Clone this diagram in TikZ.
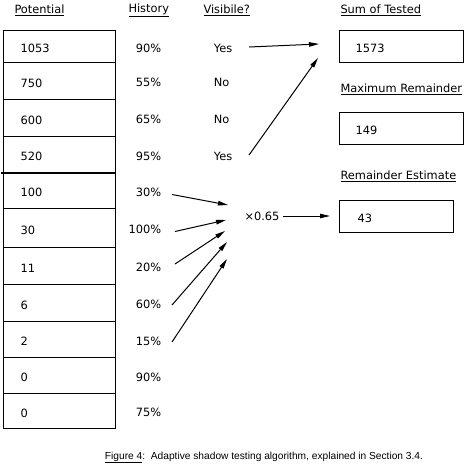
\documentclass[tikz,border=0pt]{standalone}
\usepackage{fontspec}
\setmainfont{DejaVu Sans}
\newfontfamily\capfont{Liberation Sans}
\usetikzlibrary{arrows.meta}

\tikzset{
  row/.style={text height=12pt, text depth=0pt},
  cell/.style={row, draw, anchor=north west, minimum width=112pt, text width=78pt, inner xsep=17pt, align=left},
  res/.style={row, draw, anchor=north west, minimum height=32pt, align=left},
  pct/.style={row, anchor=east},
  vis/.style={row, anchor=west},
  head/.style={anchor=west, inner sep=0pt}
}

\begin{document}
\begin{tikzpicture}[x=1pt,y=-1pt,line width=1pt,>={Triangle[length=10pt,width=4.5pt]},font=\fontsize{11.4pt}{13pt}\selectfont]
  \useasboundingbox (0,0) rectangle (467,464);
  % headings
  \node[head] (hpot) at (14,10) {\underline{Potential}};
  \node[head] (hhist) at (128,10) {\underline{History}};
  \node[head] (hvis) at (203,10) {\underline{Visibile?}};
  \node[head] (hsum) at (340,10) {\underline{Sum of Tested}};
  \node[head] (hmax) at (340,89) {\underline{Maximum Remainder}};
  \node[head] (hest) at (340,176) {\underline{Remainder Estimate}};
  % potential column
  \node[cell,minimum height=32pt] (p1) at (3,30) {1053};
  \node[cell,minimum height=37pt] (p2) at (3,62) {750};
  \node[cell,minimum height=37pt] (p3) at (3,99) {600};
  \node[cell,minimum height=36pt] (p4) at (3,136) {520};
  \node[cell,minimum height=36pt] (p5) at (3,172) {100};
  \node[cell,minimum height=39pt] (p6) at (3,208) {30};
  \node[cell,minimum height=37pt] (p7) at (3,247) {11};
  \node[cell,minimum height=37pt] (p8) at (3,284) {6};
  \node[cell,minimum height=36pt] (p9) at (3,321) {2};
  \node[cell,minimum height=36pt] (p10) at (3,357) {0};
  \node[cell,minimum height=35pt] (p11) at (3,393) {0};
  \draw[line width=2.2pt] ([xshift=-2pt]p4.south west) -- (p4.south east);
  % history column
  \node[pct] (h1) at (165,46) {90\%};
  \node[pct] (h2) at (165,80.5) {55\%};
  \node[pct] (h3) at (165,117.5) {65\%};
  \node[pct] (h4) at (165,154) {95\%};
  \node[pct] (h5) at (165,190) {30\%};
  \node[pct] (h6) at (165,227.5) {100\%};
  \node[pct] (h7) at (165,265.5) {20\%};
  \node[pct] (h8) at (165,302.5) {60\%};
  \node[pct] (h9) at (165,339) {15\%};
  \node[pct] (h10) at (165,375) {90\%};
  \node[pct] (h11) at (165,410.5) {75\%};
  % visible column
  \node[vis] (v1) at (210,46) {Yes};
  \node[vis] (v2) at (210,80.5) {No};
  \node[vis] (v3) at (210,117.5) {No};
  \node[vis] (v4) at (210,154) {Yes};
  % results
  \node[res,text width=92pt,inner xsep=16pt] (sum) at (339,30) {1573};
  \node[res,text width=92pt,inner xsep=16pt] (max) at (339,112) {149};
  \node[res,text width=78pt,inner xsep=18pt] (est) at (339,200) {43};
  \node[row] (mult) at (262,214) {×0.65};
  % arrow ends
  \coordinate (s1) at (319,44);
  \coordinate (s2) at (318,58);
  \coordinate (m1) at (228,205);
  \coordinate (m2) at (226,220);
  \coordinate (m3) at (225,231);
  \coordinate (m4) at (227,242);
  \coordinate (m5) at (227,259);
  \draw[->] ([shift={(13,1)}]v1.east) -- (s1);
  \draw[->] ([shift={(13,1)}]v4.east) -- (s2);
  \draw[->] ([shift={(7,4.5)}]h5.east) -- (m1);
  \draw[->] ([shift={(10,4)}]h6.east) -- (m2);
  \draw[->] ([shift={(10,-1.5)}]h7.east) -- (m3);
  \draw[->] ([shift={(7,2.5)}]h8.east) -- (m4);
  \draw[->] ([shift={(7,3)}]h9.east) -- (m5);
  \draw[->,shorten >=9pt] ([yshift=-2pt]mult.east) -- ([yshift=-2pt]mult.east -| est.west);
  % caption
  \node[row] (cap) at (264,453) {\capfont\fontsize{10.2pt}{12pt}\selectfont\underline{Figure 4}:\ \ Adaptive shadow testing algorithm, explained in Section 3.4.};
\end{tikzpicture}
\end{document}
